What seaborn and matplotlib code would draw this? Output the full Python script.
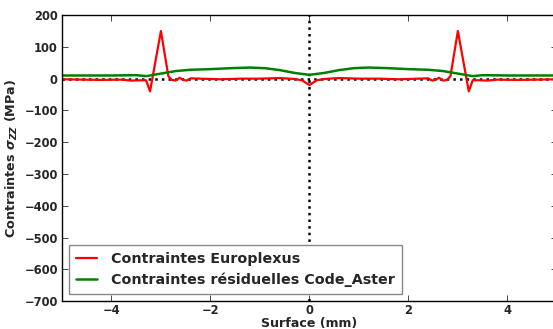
import numpy as np
import pandas as pd
import seaborn as sns
import matplotlib
matplotlib.use("Agg")
import matplotlib.pyplot as plt

# Europlexus stresses (left half, mirrored to the right)
x_red_left = [-5.0, -4.6, -4.2, -3.8, -3.6, -3.4, -3.3, -3.22, -3.0, -2.85, -2.78, -2.7,
              -2.62, -2.55, -2.48, -2.4, -2.2, -1.8, -1.4, -1.0, -0.6, -0.3, -0.15, 0.0]
y_red_left = [-2, -3, -4, -3, -6, -5, -5, -40, 150, 8, -4, -6,
              3, -4, -6, 1, 0, -2, 0, 0, 2, -1, -5, -20]

# Code_Aster residual stresses (left half, mirrored)
x_green_left = [-5.0, -4.0, -3.5, -3.3, -3.0, -2.7, -2.4, -2.0, -1.6, -1.2, -0.9, -0.6, -0.3, 0.0]
y_green_left = [10, 10, 11, 8, 16, 24, 28, 30, 33, 35, 33, 27, 18, 12]

x_red = x_red_left + [-v for v in x_red_left[-2::-1]]
y_red = y_red_left + y_red_left[-2::-1]
x_green = x_green_left + [-v for v in x_green_left[-2::-1]]
y_green = y_green_left + y_green_left[-2::-1]

df_red = pd.DataFrame({"x": x_red, "y": y_red})
df_green = pd.DataFrame({"x": x_green, "y": y_green})

sns.set_style("ticks")
plt.rcParams['font.family'] = ['DejaVu Sans']
plt.rcParams['font.weight'] = 'bold'
plt.rcParams['axes.labelweight'] = 'bold'

fig = plt.figure(figsize=(5.53, 3.29), dpi=100)
ax = fig.add_axes([0.112, 0.085, 0.895, 0.869])

sns.lineplot(data=df_red, x="x", y="y", ax=ax, color="red", lw=1.6,
             label="Contraintes Europlexus", estimator=None, sort=False)
sns.lineplot(data=df_green, x="x", y="y", ax=ax, color="green", lw=1.8,
             label="Contraintes résiduelles Code_Aster", estimator=None, sort=False)

ax.axhline(0, color="black", ls=":", lw=1.8, zorder=1)
ax.axvline(0, color="black", ls=":", lw=1.8, zorder=1)

ax.set_xlim(-5, 5)
ax.set_ylim(-700, 200)
ax.set_xticks([-4, -2, 0, 2, 4])
ax.set_yticks(np.arange(-700, 201, 100))
ax.tick_params(direction="in", top=True, right=True, labelsize=8.3, length=4, width=0.6)
ax.tick_params(axis="x", pad=2)
ax.tick_params(axis="y", pad=3)
for lab in ax.get_xticklabels() + ax.get_yticklabels():
    lab.set_fontweight("bold")
for s in ax.spines.values():
    s.set_linewidth(1.0)
    s.set_color("black")

ax.set_xlabel("Surface (mm)", fontsize=9.1, fontweight="bold", labelpad=0)
ax.set_ylabel(r"Contraintes $\sigma_{ZZ}$ (MPa)", fontsize=9.2, fontweight="bold", labelpad=3)

leg = ax.legend(loc="lower left", prop={"weight": "bold", "size": 10.3},
                frameon=True, fancybox=False, framealpha=1.0, borderaxespad=0.5,
                handlelength=1.5, handletextpad=1.0, labelspacing=0.5, borderpad=0.45)
leg.get_frame().set_edgecolor("#888888")
leg.get_frame().set_linewidth(1.0)

fig.savefig("out.png", dpi=100)
